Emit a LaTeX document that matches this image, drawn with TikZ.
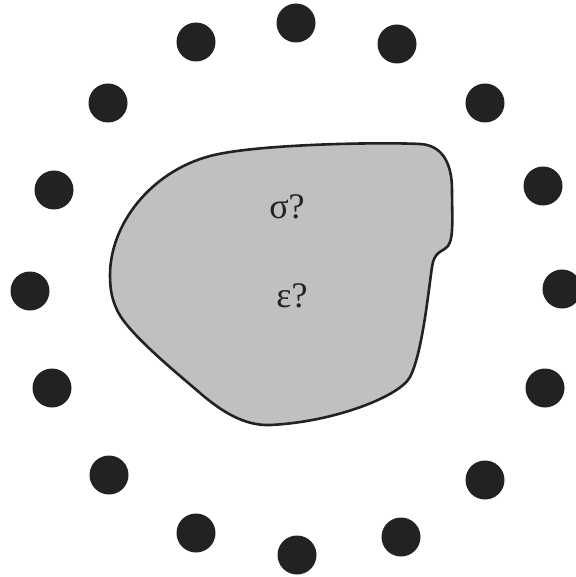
\documentclass[tikz,border=0pt]{standalone}
\usepackage{fontspec}
\setmainfont{Liberation Serif}
\definecolor{dotc}{HTML}{222222}
\definecolor{blobc}{HTML}{C0C0C0}
\definecolor{linec}{HTML}{222222}
\begin{document}
\begin{tikzpicture}[x=1pt,y=-1pt,
  dotnode/.style={circle,fill=dotc,minimum size=39pt,inner sep=0pt},
  label/.style={font=\fontsize{36}{42}\selectfont,text=linec,anchor=base,inner sep=0pt}]
\useasboundingbox (0,0) rectangle (575,577);
\foreach \x/\y [count=\i] in {296/23,397/44,485/103,543/186,562/289,545/388,485/480,401/537,297/555,196/533,109/475,52/388,30/291,54/190,108/103,196/42}
  \node[dotnode] (d\i) at (\x,\y) {};
\draw[line width=2.6pt,draw=linec,fill=blobc]
  (110,275) .. controls (110,225) and (150,172) .. (210,156)
  .. controls (255,144) and (380,142) .. (420,144)
  .. controls (440,145) and (452,160) .. (452,190)
  .. controls (452,215) and (454,238) .. (448,246)
  .. controls (444,251) and (436,251) .. (433,262)
  .. controls (430,273) and (424,350) .. (410,377)
  .. controls (400,396) and (335,422) .. (270,425)
  .. controls (245,426) and (222,412) .. (200,393)
  .. controls (178,374) and (130,335) .. (118,312)
  .. controls (112,300) and (110,290) .. cycle;
\node[label] (s) at (287,218) {σ?};
\node[label] (e) at (292,307) {ε?};
\end{tikzpicture}
\end{document}
